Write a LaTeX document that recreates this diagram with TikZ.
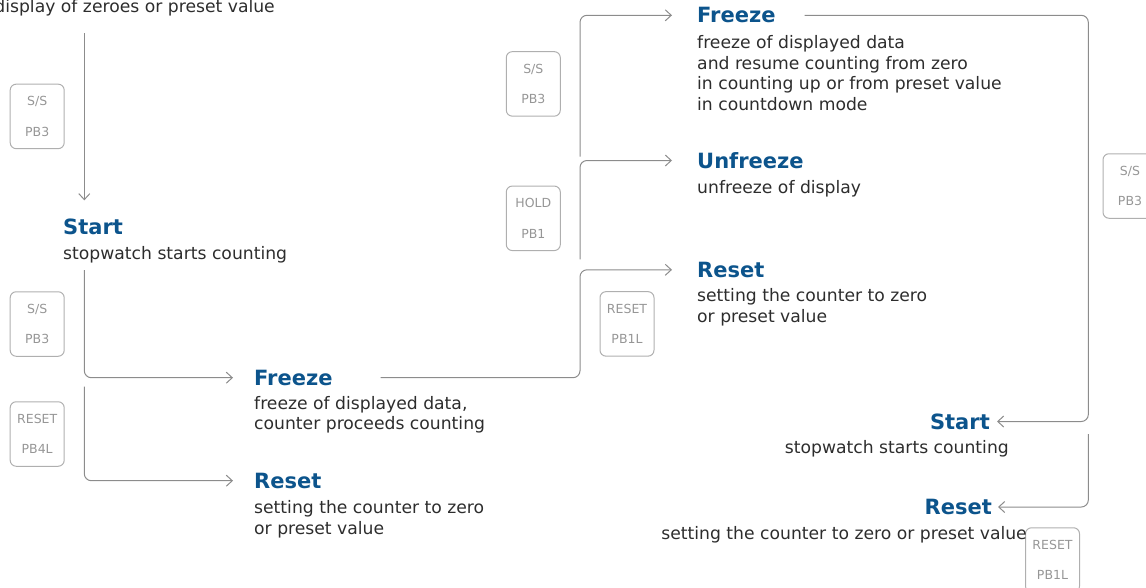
\documentclass[tikz,border=0pt]{standalone}
\usepackage{fontspec}
\setmainfont{DejaVu Sans}
\usetikzlibrary{arrows.meta}
\definecolor{titleblue}{RGB}{12,84,140}
\definecolor{textgray}{RGB}{45,45,45}
\definecolor{linegray}{RGB}{140,140,140}
\definecolor{btngray}{RGB}{175,175,175}
\definecolor{btntext}{RGB}{150,150,150}
\newcommand{\ttlfont}{\fontsize{21}{24}\selectfont\bfseries}
\newcommand{\dscfont}{\fontsize{17.2}{20.6}\selectfont}
\newcommand{\btnfont}{\fontsize{12.5}{30.7}\selectfont}
\tikzset{
  conn/.style={draw=linegray, line width=1pt, rounded corners=7pt, -{Straight Barb[length=6pt,width=11pt]}},
  ttl/.style={font=\ttlfont, text=titleblue, inner sep=0pt},
  dsc/.style={font=\dscfont, text=textgray, inner sep=0pt, align=left},
  dscr/.style={font=\dscfont, text=textgray, inner sep=0pt, align=right},
  btn/.style={draw=btngray, rounded corners=6pt, minimum width=54pt, minimum height=64.5pt, line width=1pt, font=\btnfont, text=btntext, align=center, inner sep=0pt},
}
\begin{document}
\begin{tikzpicture}[x=1pt,y=-1pt]
\useasboundingbox (0,0) rectangle (1146,587);
% buttons
\node[btn] (b1) at (37.2,116.4) {S/S\\PB3};
\node[btn] (b2) at (37.2,324) {S/S\\PB3};
\node[btn] (b3) at (37.2,434) {RESET\\PB4L};
\node[btn] (b4) at (533.3,83.9) {S/S\\PB3};
\node[btn] (b5) at (533.3,218.3) {HOLD\\PB1};
\node[btn] (b6) at (627,323.9) {RESET\\PB1L};
\node[btn] (b7) at (1130,186) {S/S\\PB3};
\node[btn] (b8) at (1052.5,560) {RESET\\PB1L};
% texts
\node[dsc, anchor=base east] (top) at (275,12) {display of zeroes or preset value};
\node[ttl, anchor=west] (start1) at (63,226.5) {Start};
\node[dsc, anchor=north west] (dstart1) at (63,246) {stopwatch starts counting};
\node[ttl, anchor=west] (freeze1) at (254,377.7) {Freeze};
\node[dsc, anchor=north west] (dfreeze1) at (254,396) {freeze of displayed data,\\counter proceeds counting};
\node[ttl, anchor=west] (reset1) at (254,480.7) {Reset};
\node[dsc, anchor=north west] (dreset1) at (254,500.3) {setting the counter to zero\\or preset value};
\node[ttl, anchor=west] (freeze2) at (697,15.3) {Freeze};
\node[dsc, anchor=north west] (dfreeze2) at (697,35.3) {freeze of displayed data\\and resume counting from zero\\in counting up or from preset value\\in countdown mode};
\node[ttl, anchor=west] (unfreeze) at (697,160.5) {Unfreeze};
\node[dsc, anchor=north west] (dunfreeze) at (697,180.3) {unfreeze of display};
\node[ttl, anchor=west] (reset2) at (697,269.8) {Reset};
\node[dsc, anchor=north west] (dreset2) at (697,288.7) {setting the counter to zero\\or preset value};
\node[ttl, anchor=east] (start2) at (990,421.5) {Start};
\node[dscr, anchor=north east] (dstart2) at (1009,440.3) {stopwatch starts counting};
\node[ttl, anchor=east] (reset3) at (992,507) {Reset};
\node[dscr, anchor=north east] (dreset3) at (1027,526.3) {setting the counter to zero or preset value};
% free ends
\coordinate (c0) at (84.3,33.3);
\coordinate (c1) at (84.3,270);
\coordinate (c2) at (84.3,386.5);
\coordinate (u0) at (580,259.3);
\coordinate (f0) at (580,156.7);
\coordinate (s0) at (1088.3,434);
% connectors
\draw[conn] (c0) -- ([yshift=18pt]c0 |- start1.north);
\draw[conn] (c1) |- ([xshift=-21pt]freeze1.west);
\draw[conn] (c2) |- ([xshift=-21pt]reset1.west);
\draw[conn] ([xshift=48pt]freeze1.east) -| ([xshift=-117pt]reset2.west) -- ([xshift=-25pt]reset2.west);
\draw[conn] (u0) |- ([xshift=-25pt]unfreeze.west);
\draw[conn] (f0) |- ([xshift=-25pt]freeze2.west);
\draw[conn] ([xshift=29pt]freeze2.east) -| ([xshift=98.3pt]start2.east) -- ([xshift=7pt]start2.east);
\draw[conn] (s0) |- ([xshift=6pt]reset3.east);
\end{tikzpicture}
\end{document}
